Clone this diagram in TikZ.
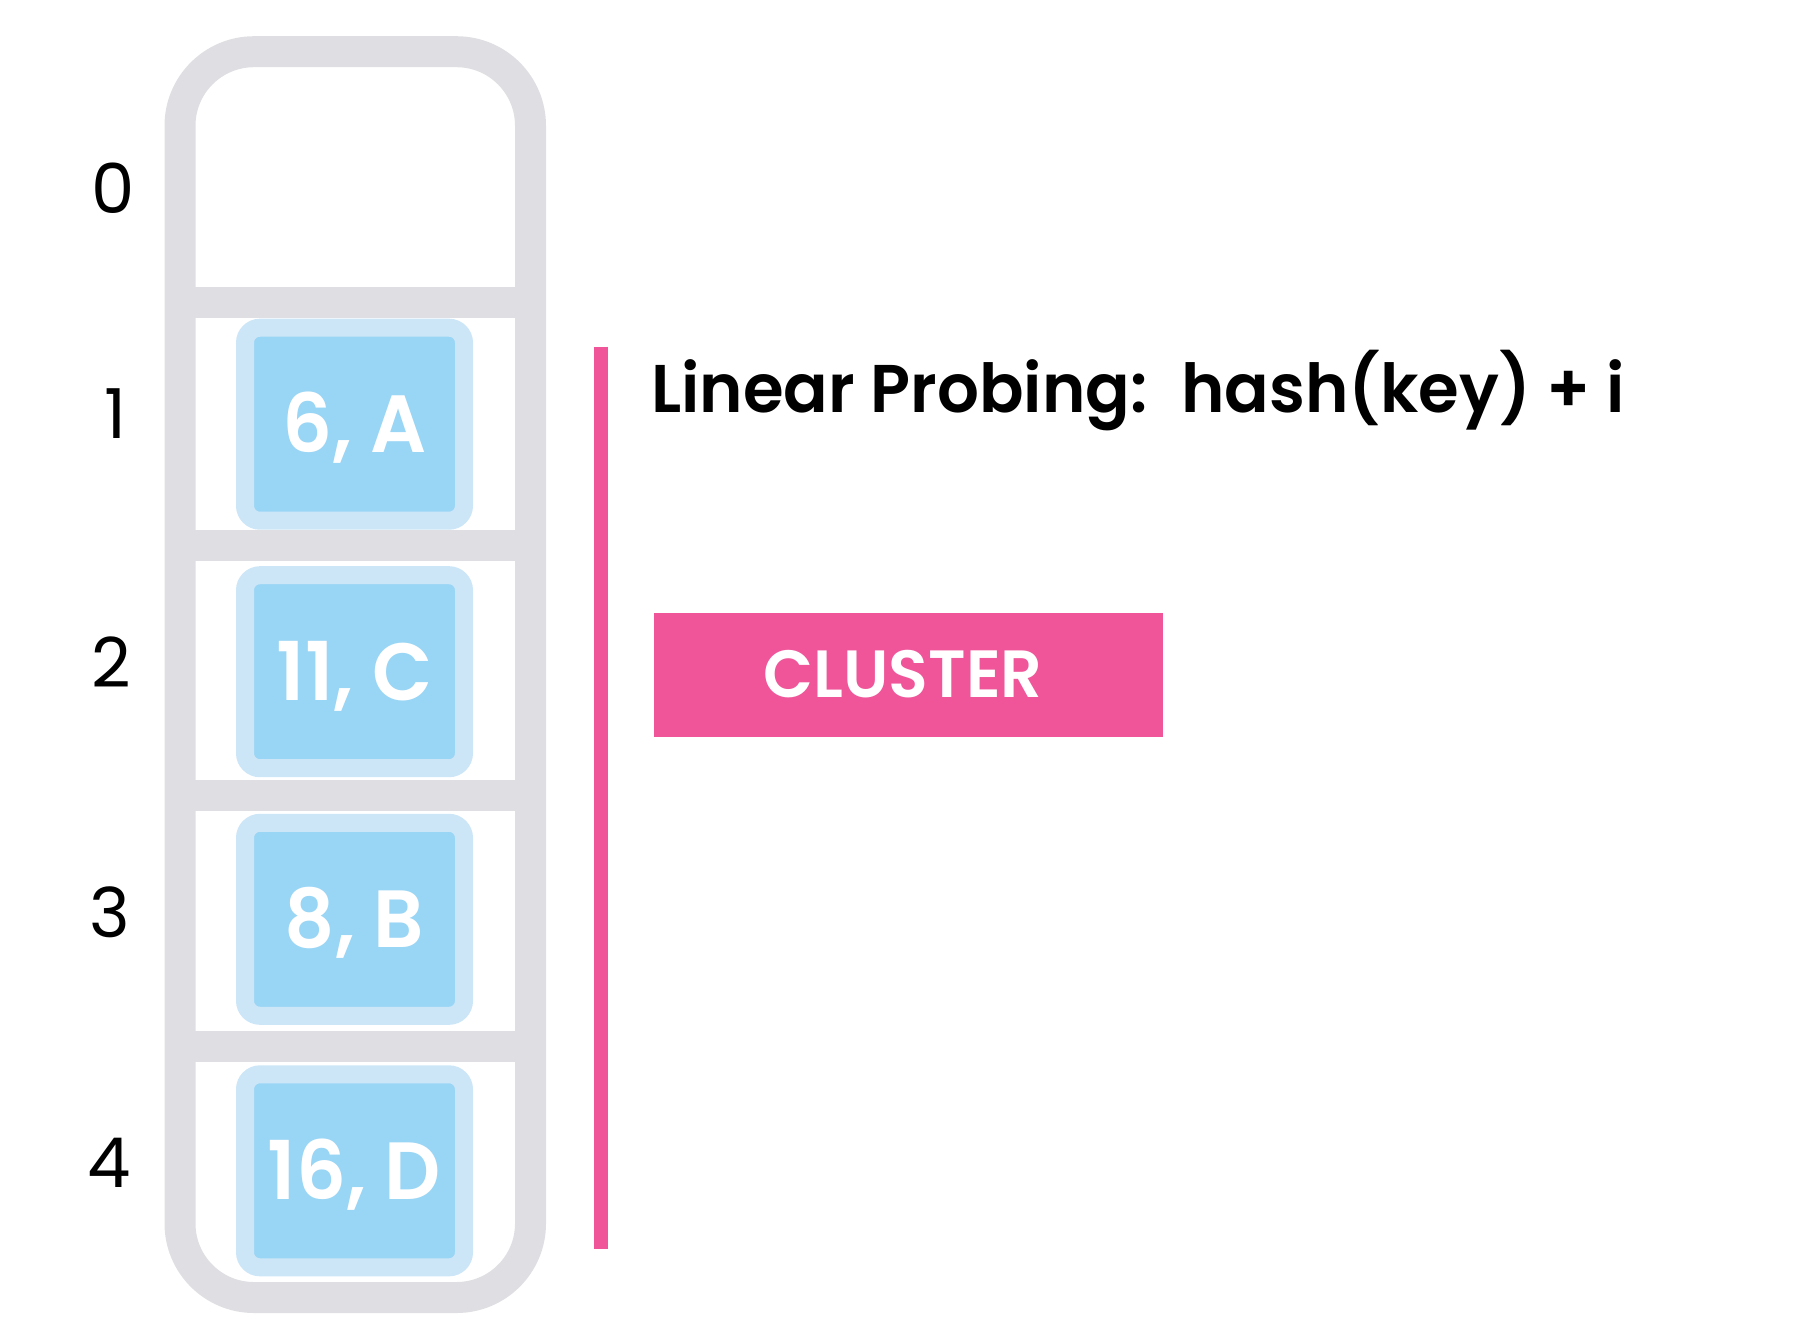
\documentclass[tikz,border=0pt]{standalone}
\usepackage{fontspec}
\setmainfont{Poppins}
\newfontfamily\cellfont{Poppins}[UprightFont=*-SemiBold, FakeStretch=0.965]
\newfontfamily\titlefont{Poppins}[UprightFont=*-SemiBold, FakeStretch=0.975]
\newfontfamily\tagfont{Poppins}[UprightFont=*-SemiBold, FakeStretch=0.975]
\definecolor{slotgray}{HTML}{DFDFE3}
\definecolor{celledge}{HTML}{CCE6F8}
\definecolor{cellfill}{HTML}{99D5F5}
\definecolor{clusterpink}{HTML}{F05499}
\begin{document}
\begin{tikzpicture}[x=0.1mm, y=-0.1mm,
  idx/.style={font=\fontsize{19.6}{21}\selectfont, text=black, inner sep=0pt,
              text height=13.7pt, text depth=0pt},
  cell/.style={rectangle, draw=celledge, fill=cellfill, line width=1.8mm,
               rounded corners=1.5mm, minimum width=21.9mm, minimum height=19.3mm,
               inner sep=0pt, text=white,
               font=\fontsize{23.1}{25}\selectfont\cellfont,
               text height=16.2pt, text depth=0pt},
  divider/.style={fill=slotgray}
]
\useasboundingbox (0,0) rectangle (1802,1340);

% table outline
\draw[slotgray, line width=3.1mm, rounded corners=7.4mm] (180,51.7) rectangle (530.5,1297.5);
% slot separators
\foreach \y in {302.5,545,795.5,1046}
  \fill[divider] (190,\y-15.5) rectangle (520,\y+15.5);

% slot indices
\node[idx] (i0) at (113.5,189) {0};
\node[idx] (i1) at (116,414) {1};
\node[idx] (i2) at (111,663) {2};
\node[idx] (i3) at (110,913) {3};
\node[idx] (i4) at (109,1163) {4};

% stored entries
\node[cell] (c1) at (354.5,424.2) {6, A};
\node[cell] (c2) at (354.5,671.7) {11, C};
\node[cell] (c3) at (354.5,919.3) {8, B};
\node[cell] (c4) at (354.5,1170.8) {16, D};

% cluster marker
\coordinate (ctop) at (601,346.7);
\coordinate (cbot) at (601,1249);
\draw[clusterpink, line width=1.37mm] (ctop) -- (cbot);

\node[anchor=base west, inner sep=0pt, font=\fontsize{19.2}{21}\selectfont\titlefont]
  (title) at (650.5,412) {Linear Probing:\hspace{0.5em}hash(key) + i};

\node[rectangle, fill=clusterpink, minimum width=50.9mm, minimum height=12.4mm,
      inner sep=0pt] (cluster) at (908.5,674.5) {};
\node[inner sep=0pt, text=white, font=\fontsize{19}{21}\selectfont\tagfont,
      text height=13.3pt, text depth=0pt]
  (clusterlabel) at (903,674.5) {CLUSTER};
\end{tikzpicture}
\end{document}
